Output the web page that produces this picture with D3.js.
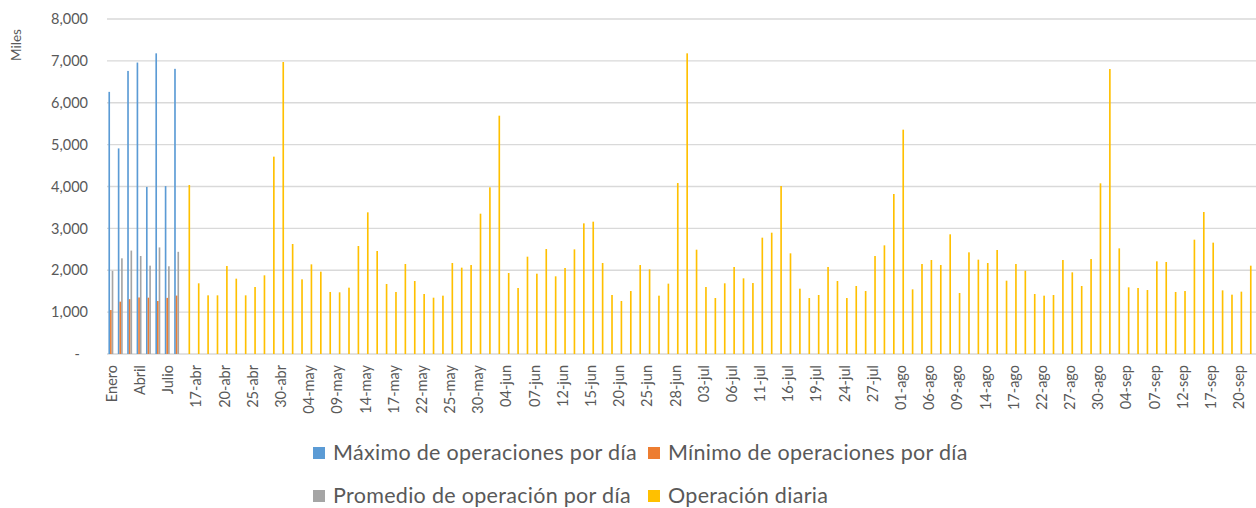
<!DOCTYPE html>
<html>
<head>
<meta charset="utf-8">
<script src="https://cdn.jsdelivr.net/npm/d3@7"></script>
<style>
  body { margin: 0; background: #fff; }
  text { font-family: Lato, "Liberation Sans", sans-serif; fill: #595959; }
</style>
</head>
<body>
<svg id="chart"></svg>
<script>
// meses (resumen) y dias de operacion
const meses = ["Enero", "Febrero", "Marzo", "Abril", "Mayo", "Junio", "Julio", "Agosto"];
const maximoPorDia = [6260, 4910, 6760, 6960, 3990, 7180, 4010, 6810];
const minimoPorDia = [1050, 1250, 1310, 1350, 1345, 1265, 1340, 1395];
const promedioPorDia = [1985, 2285, 2470, 2340, 2110, 2545, 2095, 2440];

const dias = [
  "16-abr","17-abr","18-abr","19-abr","20-abr","23-abr","24-abr","25-abr","26-abr","27-abr","30-abr",
  "02-may","03-may","04-may","07-may","08-may","09-may","10-may","11-may","14-may","15-may","16-may",
  "17-may","18-may","21-may","22-may","23-may","24-may","25-may","28-may","29-may","30-may","31-may",
  "01-jun","04-jun","05-jun","06-jun","07-jun","08-jun","11-jun","12-jun","13-jun","14-jun","15-jun",
  "18-jun","19-jun","20-jun","21-jun","22-jun","25-jun","26-jun","27-jun","28-jun","29-jun",
  "02-jul","03-jul","04-jul","05-jul","06-jul","09-jul","10-jul","11-jul","12-jul","13-jul","16-jul",
  "17-jul","18-jul","19-jul","20-jul","23-jul","24-jul","25-jul","26-jul","27-jul","30-jul","31-jul",
  "01-ago","02-ago","03-ago","06-ago","07-ago","08-ago","09-ago","10-ago","13-ago","14-ago","15-ago",
  "16-ago","17-ago","20-ago","21-ago","22-ago","23-ago","24-ago","27-ago","28-ago","29-ago","30-ago","31-ago",
  "03-sep","04-sep","05-sep","06-sep","07-sep","10-sep","11-sep","12-sep","13-sep","14-sep","17-sep",
  "18-sep","19-sep","20-sep","21-sep"
];
const operacionDiaria = [
  4036, 1688, 1401, 1401, 2101, 1799, 1401, 1600, 1879, 4713, 6973,
  2627, 1783, 2141, 1966, 1481, 1473, 1584, 2579, 3383, 2460, 1672,
  1481, 2149, 1743, 1433, 1345, 1393, 2173, 2062, 2125, 3351, 3980,
  5691, 1934, 1576, 2324, 1918, 2507, 1855, 2054, 2499, 3120, 3160,
  2173, 1409, 1266, 1504, 2125, 2022, 1393, 1680, 4083, 7180,
  2491, 1600, 1337, 1688, 2078, 1807, 1695, 2778, 2897, 4012, 2404,
  1560, 1337, 1409, 2078, 1743, 1337, 1624, 1504, 2340, 2595, 3821,
  5357, 1544, 2149, 2245, 2125, 2858, 1457, 2428, 2253, 2173, 2484,
  1751, 2149, 1990, 1433, 1393, 1409, 2245, 1950, 1624, 2269, 4076, 6806,
  2523, 1592, 1576, 1528, 2213, 2197, 1481, 1504, 2730, 3391, 2659,
  1520, 1417, 1489, 2109
];

const yTicks = [0, 1000, 2000, 3000, 4000, 5000, 6000, 7000, 8000];

const series = [
  { key: "max", name: "Máximo de operaciones por día", color: "#5b9bd5" },
  { key: "min", name: "Mínimo de operaciones por día", color: "#ed7d31" },
  { key: "prom", name: "Promedio de operación por día", color: "#a5a5a5" },
  { key: "dia", name: "Operación diaria", color: "#ffc000" }
];

const categorias = meses.concat(dias);
// tabla para dibujar
const filas = categorias.map((c, i) => {
  const m = i < meses.length;
  return {
    cat: c,
    max: m ? maximoPorDia[i] : null,
    min: m ? minimoPorDia[i] : null,
    prom: m ? promedioPorDia[i] : null,
    dia: m ? null : operacionDiaria[i - meses.length]
  };
});

const width = 1256, height = 508;
const plotLeft = 107, plotRight = 1253, plotTop = 19, plotBottom = 354;

const svg = d3.select("#chart").attr("width", width).attr("height", height);

const x0 = d3.scaleBand().domain(categorias).range([plotLeft, plotRight])
  .paddingInner(0.3).paddingOuter(0.15);
const x1 = d3.scaleBand().domain(series.map(s => s.key)).range([0, x0.bandwidth()]);
const y = d3.scaleLinear().domain([0, 8000]).range([plotBottom, plotTop]);

// gridlines
svg.append("g").selectAll("line")
  .data(yTicks)
  .enter().append("line")
  .attr("x1", plotLeft).attr("x2", width)
  .attr("y1", d => y(d)).attr("y2", d => y(d))
  .attr("stroke", "#d9d9d9").attr("stroke-width", 1.3);

// y axis
const yAxis = svg.append("g")
  .attr("transform", "translate(" + (plotLeft - 19) + ",0)")
  .call(d3.axisLeft(y).tickValues(yTicks).tickSize(0)
    .tickFormat(d => d === 0 ? "-" : d3.format(",")(d)));
yAxis.select(".domain").remove();
yAxis.selectAll("text")
  .attr("x", d => d === 0 ? -8 : 0)
  .style("font-family", "Lato, 'Liberation Sans', sans-serif")
  .style("font-size", "14.5px").attr("fill", "#595959");

svg.append("text")
  .attr("transform", "translate(21,45) rotate(-90)")
  .attr("text-anchor", "middle")
  .style("font-size", "13.5px")
  .text("Miles");

// bars
const grupos = svg.append("g").selectAll("g")
  .data(filas)
  .enter().append("g")
  .attr("transform", d => "translate(" + x0(d.cat) + ",0)");

grupos.selectAll("rect")
  .data(d => series.filter(s => d[s.key] != null).map(s => ({ key: s.key, color: s.color, v: d[s.key] })))
  .enter().append("rect")
  .attr("x", d => x1(d.key))
  .attr("width", x1.bandwidth())
  .attr("y", d => y(d.v))
  .attr("height", d => y(0) - y(d.v))
  .attr("fill", d => d.color);

// x axis labels (cada 3 categorias)
const xAxis = svg.append("g")
  .attr("transform", "translate(0," + plotBottom + ")")
  .call(d3.axisBottom(x0).tickValues(categorias.filter((d, i) => i % 3 === 0)).tickSize(0));
xAxis.select(".domain").remove();
xAxis.selectAll("text")
  .attr("transform", "rotate(-90)")
  .attr("x", -11).attr("y", 0).attr("dy", "0.36em")
  .attr("text-anchor", "end")
  .style("font-family", "Lato, 'Liberation Sans', sans-serif")
  .style("font-size", "14.5px").attr("fill", "#595959");

// legend
const legendPos = [[313, 447], [648, 447], [313, 490], [648, 490]];
const leyenda = svg.append("g").selectAll("g")
  .data(series)
  .enter().append("g")
  .attr("transform", (d, i) => "translate(" + legendPos[i][0] + "," + legendPos[i][1] + ")");
leyenda.append("rect").attr("width", 12).attr("height", 12).attr("fill", d => d.color);
leyenda.append("text")
  .attr("x", 20).attr("y", 12.5)
  .style("font-size", "21.5px")
  .style("letter-spacing", "0.3px")
  .text(d => d.name);
</script>
</body>
</html>
